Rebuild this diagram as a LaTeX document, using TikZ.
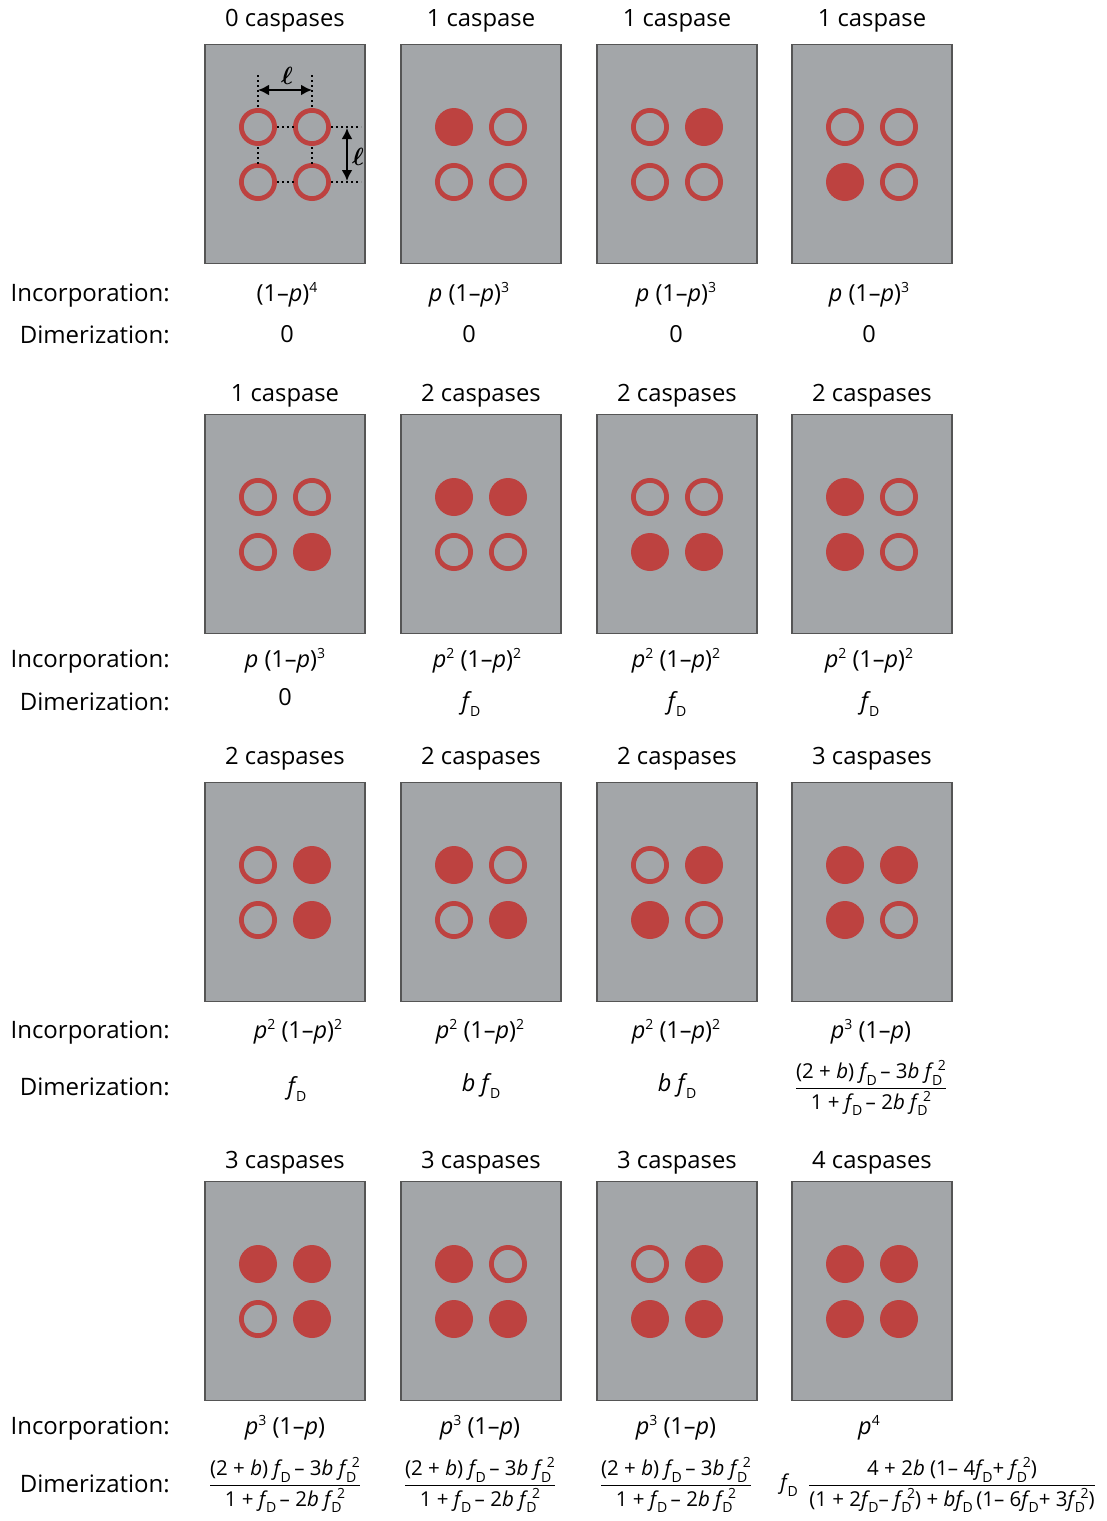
\documentclass[tikz,border=0pt]{standalone}
\usepackage{amsmath,bm}
\usepackage{fontspec}
\setmainfont{Open Sans}
\usetikzlibrary{arrows.meta,calc}
\definecolor{boxgray}{RGB}{163,166,169}
\definecolor{boxedge}{RGB}{85,85,85}
\definecolor{casp}{RGB}{189,66,64}
\newcommand\vp{\textit{p}}
\newcommand\mn{\textendash}
\newcommand\subsz{\fontsize{14}{15}\selectfont}
\newcommand\fD{\textit{f}\kern-1.8pt\raisebox{-0.6ex}{\subsz D}}
\newcommand\fDs{\textit{f}\kern-1.8pt\rlap{\raisebox{-0.6ex}{\subsz D}}\kern3.5pt\raisebox{0.75ex}{\subsz\,2}}
\newcommand\sq[1]{\raisebox{0.7ex}{\subsz #1}}
\newcommand\fracA{$\dfrac{\mbox{(2 + \textit{b}) \fD\kern0pt\,– 3\textit{b} \fDs}}{\mbox{1 + \fD\kern0pt\,– 2\textit{b} \fDs}}$}
\tikzset{
  cbox/.style={draw=boxedge, line width=1.3pt, fill=boxgray},
  full/.style={fill=casp},
  ring/.style={draw=casp, line width=4.8pt},
  ttl/.style={font=\fontsize{23.8}{27}\selectfont, inner sep=0pt, yshift=-2.5pt},
  lbl/.style={font=\fontsize{24}{27}\selectfont, anchor=east, inner sep=0pt, yshift=-2.5pt},
  val/.style={font=\fontsize{23.5}{27}\selectfont, inner sep=0pt, yshift=-2pt},
  frc/.style={font=\fontsize{20.5}{24}\selectfont, inner sep=0pt, yshift=-1pt},
  dots/.style={line width=2.3pt, dash pattern=on 2.3pt off 2.7pt},
  dim/.style={line width=2.4pt, {Latex[length=11pt,width=11pt]}-{Latex[length=11pt,width=11pt]}},
}
\newcommand\cell[7]{% name, cx, top, TL, TR, BL, BR
  \node[cbox, minimum width=160pt, minimum height=219pt, inner sep=0pt, anchor=north] (#1) at (#2,#3) {};
  \foreach \dx/\dy/\f [count=\k] in {-27/83/#4, 27/83/#5, -27/138/#6, 27/138/#7}{
    \ifnum\f=1
      \fill[full] ($(#2,#3)+(\dx,\dy)$) circle (19pt);
    \else
      \draw[ring] ($(#2,#3)+(\dx,\dy)$) circle (16.6pt);
    \fi
  }
}
\begin{document}
\begin{tikzpicture}[x=1pt,y=-1pt]
\useasboundingbox[fill=white] (0,0) rectangle (1106,1521);

% row 1
\cell{b11}{285}{44}{0}{0}{0}{0}
\cell{b12}{481}{44}{1}{0}{0}{0}
\cell{b13}{677}{44}{0}{1}{0}{0}
\cell{b14}{872}{44}{0}{0}{1}{0}
% row 2
\cell{b21}{285}{414}{0}{0}{0}{1}
\cell{b22}{481}{414}{1}{1}{0}{0}
\cell{b23}{677}{414}{0}{0}{1}{1}
\cell{b24}{872}{414}{1}{0}{1}{0}
% row 3
\cell{b31}{285}{782}{0}{1}{0}{1}
\cell{b32}{481}{782}{1}{0}{0}{1}
\cell{b33}{677}{782}{0}{1}{1}{0}
\cell{b34}{872}{782}{1}{1}{1}{0}
% row 4
\cell{b41}{285}{1181}{1}{1}{0}{1}
\cell{b42}{481}{1181}{1}{0}{1}{1}
\cell{b43}{677}{1181}{0}{1}{1}{1}
\cell{b44}{872}{1181}{1}{1}{1}{1}

% spacing annotation in first box
\coordinate (vA1) at (258,75); \coordinate (vA2) at (258,107);
\coordinate (vB1) at (312,75); \coordinate (vB2) at (312,107);
\draw[dots] (vA1) -- (vA2); \draw[dots] (vB1) -- (vB2);
\draw[dots] (258,147) -- (258,164); \draw[dots] (312,147) -- (312,164);
\draw[dots] (277,127) -- (294,127); \draw[dots] (277,182) -- (294,182);
\draw[dots] (331,127) -- (361,127); \draw[dots] (331,182) -- (361,182);
\coordinate (hL) at (258,90); \coordinate (hR) at (312,90);
\draw[dim] (hL) -- (hR);
\coordinate (vT) at (347,128); \coordinate (vB) at (347,181);
\draw[dim] (vT) -- (vB);
\node[font=\fontsize{26}{28}\selectfont, inner sep=0pt] (l1) at (287,76) {$\bm{\ell}$};
\node[font=\fontsize{26}{28}\selectfont, inner sep=0pt] (l2) at (358,157) {$\bm{\ell}$};

% titles
\node[ttl] (t11) at (285,18) {0 caspases};
\node[ttl] (t12) at (481,18) {1 caspase};
\node[ttl] (t13) at (677,18) {1 caspase};
\node[ttl] (t14) at (872,18) {1 caspase};
\node[ttl] (t21) at (285,393) {1 caspase};
\node[ttl] (t22) at (481,393) {2 caspases};
\node[ttl] (t23) at (677,393) {2 caspases};
\node[ttl] (t24) at (872,393) {2 caspases};
\node[ttl] (t31) at (285,756) {2 caspases};
\node[ttl] (t32) at (481,756) {2 caspases};
\node[ttl] (t33) at (677,756) {2 caspases};
\node[ttl] (t34) at (872,756) {3 caspases};
\node[ttl] (t41) at (285,1160) {3 caspases};
\node[ttl] (t42) at (481,1160) {3 caspases};
\node[ttl] (t43) at (677,1160) {3 caspases};
\node[ttl] (t44) at (872,1160) {4 caspases};

% row labels
\node[lbl] (i1) at (170,293) {Incorporation:};
\node[lbl] (d1) at (170,332) {Dimerization:};
\node[lbl] (i2) at (170,659) {Incorporation:};
\node[lbl] (d2) at (170,699) {Dimerization:};
\node[lbl] (i3) at (170,1030) {Incorporation:};
\node[lbl] (d3) at (170,1084) {Dimerization:};
\node[lbl] (i4) at (170,1426) {Incorporation:};
\node[lbl] (d4) at (170,1481) {Dimerization:};

% row 1 values
\node[val] (p11) at (287,293) {(1\mn\vp)\sq{4}};
\node[val] (p12) at (469,293) {\vp\ (1\mn\vp)\sq{3}};
\node[val] (p13) at (676,293) {\vp\ (1\mn\vp)\sq{3}};
\node[val] (p14) at (869,293) {\vp\ (1\mn\vp)\sq{3}};
\node[val] (q11) at (287,332) {0};
\node[val] (q12) at (469,332) {0};
\node[val] (q13) at (676,332) {0};
\node[val] (q14) at (869,332) {0};
% row 2 values
\node[val] (p21) at (285,659) {\vp\ (1\mn\vp)\sq{3}};
\node[val] (p22) at (477,659) {\vp\sq{2} (1\mn\vp)\sq{2}};
\node[val] (p23) at (676,659) {\vp\sq{2} (1\mn\vp)\sq{2}};
\node[val] (p24) at (869,659) {\vp\sq{2} (1\mn\vp)\sq{2}};
\node[val] (q21) at (285,695) {0};
\node[val] (q22) at (471,702) {\fD};
\node[val] (q23) at (677,702) {\fD};
\node[val] (q24) at (870,702) {\fD};
% row 3 values
\node[val] (p31) at (298,1030) {\vp\sq{2} (1\mn\vp)\sq{2}};
\node[val] (p32) at (480,1030) {\vp\sq{2} (1\mn\vp)\sq{2}};
\node[val] (p33) at (676,1030) {\vp\sq{2} (1\mn\vp)\sq{2}};
\node[val] (p34) at (871,1030) {\vp\sq{3} (1\mn\vp)};
\node[val] (q31) at (297,1087) {\fD};
\node[val] (q32) at (481,1084) {\textit{b} \fD};
\node[val] (q33) at (677,1084) {\textit{b} \fD};
\node[frc] (q34) at (871,1087) {\fracA};
% row 4 values
\node[val] (p41) at (285,1426) {\vp\sq{3} (1\mn\vp)};
\node[val] (p42) at (480,1426) {\vp\sq{3} (1\mn\vp)};
\node[val] (p43) at (676,1426) {\vp\sq{3} (1\mn\vp)};
\node[val] (p44) at (869,1426) {\vp\sq{4}};
\node[frc] (q41) at (285,1484) {\fracA};
\node[frc] (q42) at (480,1484) {\fracA};
\node[frc] (q43) at (676,1484) {\fracA};
\node[frc] (q44a) at (789,1484) {\fD};
\node[frc] (q44) at (952,1484) {$\dfrac{\mbox{4 + 2\textit{b} (1– 4\fD\kern0pt+ \fDs)}}{\mbox{(1 + 2\fD\kern0pt– \fDs) + \textit{b}\fD\,(1– 6\fD\kern0pt+ 3\fDs)}}$};
\end{tikzpicture}
\end{document}
